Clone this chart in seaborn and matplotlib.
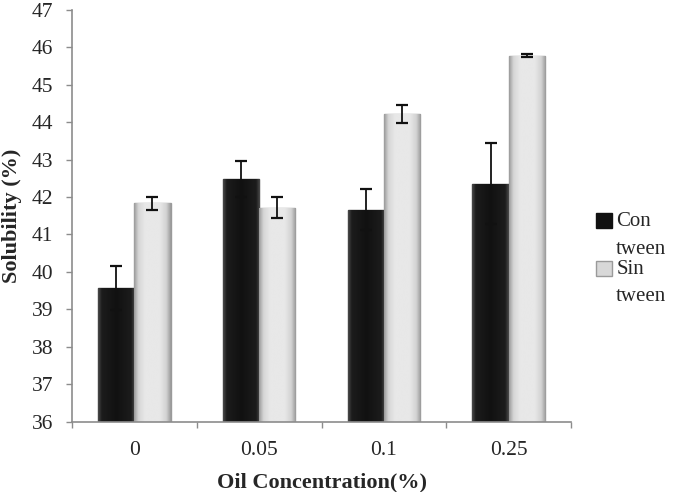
import numpy as np
import pandas as pd
import matplotlib
matplotlib.use('Agg')
import matplotlib.pyplot as plt
from matplotlib.colors import LinearSegmentedColormap
import seaborn as sns

# values
concentrations = ['0', '0.05', '0.1', '0.25']
con_tween = [39.57, 42.49, 41.66, 42.36]
sin_tween = [41.83, 41.72, 44.22, 45.78]
con_err = [0.58, 0.48, 0.55, 1.07]
sin_err = [0.17, 0.27, 0.24, 0.03]
series_names = ['Con\ntween', 'Sin\ntween']
y_ticks = list(range(36, 48))

df = pd.DataFrame({
    'conc': concentrations * 2,
    'solubility': con_tween + sin_tween,
    'err': con_err + sin_err,
    'group': [series_names[0]] * 4 + [series_names[1]] * 4,
})

sns.set_style('white')
plt.rcParams['font.family'] = ['Liberation Serif', 'DejaVu Serif']

fig = plt.figure(figsize=(6.84, 4.92), dpi=100)
ax = fig.add_axes([0.1053, 0.143, 0.7295, 0.837])

palette = {series_names[0]: '#141414', series_names[1]: '#e4e4e4'}
sns.barplot(data=df, x='conc', y='solubility', hue='group', order=concentrations,
            hue_order=series_names, palette=palette, width=0.58, errorbar=None,
            saturation=1, ax=ax, legend=True)

ax.set_ylim(36, 47)
ax.set_xlim(-0.5, 3.5)

# excel-like shaded bars: horizontal gradient clipped to each bar
shades = [
    LinearSegmentedColormap.from_list('dark', [(0, '#4a4a4a'), (0.1, '#1c1c1c'), (0.5, '#111111'),
                                               (0.9, '#1c1c1c'), (1, '#4a4a4a')]),
    LinearSegmentedColormap.from_list('light', [(0, '#9a9a9a'), (0.12, '#d6d6d6'), (0.3, '#e8e8e8'),
                                                (0.7, '#e8e8e8'), (0.88, '#d2d2d2'), (1, '#9a9a9a')]),
]
edges = ['#3a3a3a', '#9a9a9a']
grad = np.linspace(0, 1, 200).reshape(1, -1)
bar_containers = list(ax.containers)
for i, cont in enumerate(bar_containers):
    for patch in cont:
        patch.set_edgecolor(edges[i])
        patch.set_linewidth(1.0)
        x0, w, top = patch.get_x(), patch.get_width(), patch.get_height()
        im = ax.imshow(grad, cmap=shades[i], extent=[x0, x0 + w, 36, top],
                       aspect='auto', interpolation='bilinear', zorder=patch.get_zorder() + 0.1)
        im.set_clip_path(patch)
    xs = [p.get_x() + p.get_width() / 2 for p in cont]
    sub = df[df['group'] == series_names[i]]
    ax.errorbar(xs, sub['solubility'], yerr=sub['err'], fmt='none',
                ecolor='#111111', elinewidth=1.3, capsize=4.5, capthick=1.6, zorder=5)

ax.set_ylim(36, 47)
ax.set_xlim(-0.5, 3.5)
ax.set_aspect('auto')
ax.set_yticks(y_ticks)
ax.set_xticks(np.arange(-0.5, 4.0, 1.0), minor=True)
ax.tick_params(axis='x', which='major', length=0, pad=14, labelsize=15.5)
ax.tick_params(axis='x', which='minor', length=4.5, width=1, color='#8c8c8c', direction='out', bottom=True)
ax.tick_params(axis='y', length=4.5, width=1, color='#8c8c8c', direction='out', left=True,
               pad=9, labelsize=15.5)

for side in ['top', 'right']:
    ax.spines[side].set_visible(False)
for side in ['left', 'bottom']:
    ax.spines[side].set_color('#8c8c8c')
    ax.spines[side].set_linewidth(1.2)

ax.set_xlabel('Oil Concentration(%)', fontsize=16, fontweight='bold', labelpad=9)
ax.set_ylabel('Solubility (%)', fontsize=16, fontweight='bold', labelpad=7)

handles, labels = ax.get_legend_handles_labels()
leg = ax.legend(handles, labels, loc='upper left', bbox_to_anchor=(586 / 684, 1 - 202 / 492),
                bbox_transform=fig.transFigure, frameon=False, fontsize=15, borderpad=0,
                handlelength=0.75, handleheight=0.75, handletextpad=0.2, labelspacing=0.05)
for t in leg.get_texts():
    t.set_linespacing(1.6)
leg_colors = ['#111111', '#d8d8d8']
for h, c in zip(leg.legend_handles, leg_colors):
    h.set_facecolor(c)
    h.set_edgecolor('#9a9a9a' if c != '#111111' else '#111111')
    h.set_y(h.get_y() + 10.5)

fig.savefig('out.png', dpi=100)
